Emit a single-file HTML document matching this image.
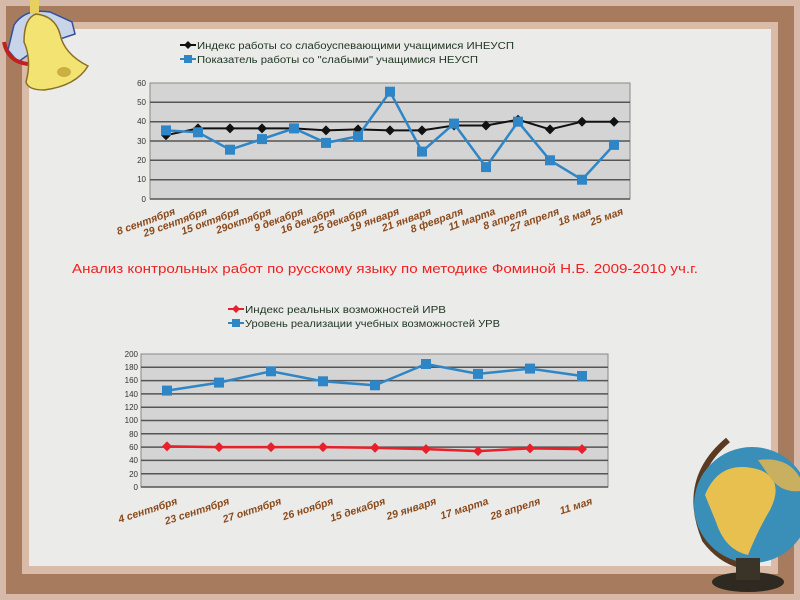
<!DOCTYPE html>
<html><head><meta charset="utf-8"><style>
html,body{margin:0;padding:0;width:800px;height:600px;overflow:hidden;background:#e8e6e2}
svg{display:block}
text{font-family:"Liberation Sans",sans-serif}
</style></head><body>
<svg width="800" height="600" xmlns="http://www.w3.org/2000/svg">
<!-- frame -->
<rect x="0" y="0" width="800" height="600" fill="#d6b9a8"/>
<rect x="6" y="6" width="788" height="588" fill="#a67b5e"/>
<rect x="22" y="22" width="756" height="552" fill="#d9bba8"/>
<rect x="29" y="29" width="742" height="537" fill="#ebebea"/>
<!-- top chart -->
<rect x="150" y="83" width="480" height="116" fill="#d4d4d4" stroke="#888" stroke-width="1"/>
<g stroke="#555" stroke-width="1.5">
<line x1="150" y1="102.3" x2="630" y2="102.3"/><line x1="150" y1="121.7" x2="630" y2="121.7"/>
<line x1="150" y1="141" x2="630" y2="141"/><line x1="150" y1="160.3" x2="630" y2="160.3"/>
<line x1="150" y1="179.7" x2="630" y2="179.7"/><line x1="150" y1="199" x2="630" y2="199"/>
</g>
<g font-size="8" fill="#333" text-anchor="end">
<text x="146" y="86">60</text><text x="146" y="105">50</text><text x="146" y="124">40</text><text x="146" y="144">30</text><text x="146" y="163">20</text><text x="146" y="182">10</text><text x="146" y="202">0</text>
</g>
<polyline fill="none" stroke="#111" stroke-width="2" points="166,135.2 198,128.4 230,128.4 262,128.4 294,128.4 326,130.4 358,129.4 390,130.4 422,130.4 454,125.5 486,125.5 518,119.7 550,129.4 582,121.7 614,121.7"/>
<g fill="#111">
<path d="M166 130.2l5 5-5 5-5-5z"/><path d="M198 123.4l5 5-5 5-5-5z"/><path d="M230 123.4l5 5-5 5-5-5z"/><path d="M262 123.4l5 5-5 5-5-5z"/><path d="M294 123.4l5 5-5 5-5-5z"/><path d="M326 125.4l5 5-5 5-5-5z"/><path d="M358 124.4l5 5-5 5-5-5z"/><path d="M390 125.4l5 5-5 5-5-5z"/><path d="M422 125.4l5 5-5 5-5-5z"/><path d="M454 120.5l5 5-5 5-5-5z"/><path d="M486 120.5l5 5-5 5-5-5z"/><path d="M518 114.7l5 5-5 5-5-5z"/><path d="M550 124.4l5 5-5 5-5-5z"/><path d="M582 116.7l5 5-5 5-5-5z"/><path d="M614 116.7l5 5-5 5-5-5z"/>
</g>
<polyline fill="none" stroke="#2f86c6" stroke-width="2.5" points="166,130.4 198,132.3 230,149.7 262,139.1 294,128.4 326,142.9 358,136.2 390,91.7 422,151.6 454,123.6 486,167.1 518,121.7 550,160.3 582,179.7 614,144.9"/>
<g fill="#2f86c6">
<rect x="161" y="125.4" width="10" height="10"/><rect x="193" y="127.3" width="10" height="10"/><rect x="225" y="144.7" width="10" height="10"/><rect x="257" y="134.1" width="10" height="10"/><rect x="289" y="123.4" width="10" height="10"/><rect x="321" y="137.9" width="10" height="10"/><rect x="353" y="131.2" width="10" height="10"/><rect x="385" y="86.7" width="10" height="10"/><rect x="417" y="146.6" width="10" height="10"/><rect x="449" y="118.6" width="10" height="10"/><rect x="481" y="162.1" width="10" height="10"/><rect x="513" y="116.7" width="10" height="10"/><rect x="545" y="155.3" width="10" height="10"/><rect x="577" y="174.7" width="10" height="10"/><rect x="609" y="139.9" width="10" height="10"/>
</g>
<g font-size="10.5" fill="#8a4a1c" font-style="italic" font-weight="bold" text-anchor="end">
<text transform="translate(176,214) rotate(-20)">8 сентября</text>
<text transform="translate(208,214) rotate(-20)">29 сентября</text>
<text transform="translate(240,214) rotate(-20)">15 октября</text>
<text transform="translate(272,214) rotate(-20)">29октября</text>
<text transform="translate(304,214) rotate(-20)">9 декабря</text>
<text transform="translate(336,214) rotate(-20)">16 декабря</text>
<text transform="translate(368,214) rotate(-20)">25 декабря</text>
<text transform="translate(400,214) rotate(-20)">19 января</text>
<text transform="translate(432,214) rotate(-20)">21 января</text>
<text transform="translate(464,214) rotate(-20)">8 февраля</text>
<text transform="translate(496,214) rotate(-20)">11 марта</text>
<text transform="translate(528,214) rotate(-20)">8 апреля</text>
<text transform="translate(560,214) rotate(-20)">27 апреля</text>
<text transform="translate(592,214) rotate(-20)">18 мая</text>
<text transform="translate(624,214) rotate(-20)">25 мая</text>
</g>
<line x1="180" y1="45" x2="196" y2="45" stroke="#111" stroke-width="2"/><path d="M188 41l4 4-4 4-4-4z" fill="#111"/>
<text x="197" y="49" font-size="10" fill="#1e3520" textLength="317" lengthAdjust="spacingAndGlyphs">Индекс работы со слабоуспевающими учащимися ИНЕУСП</text>
<line x1="180" y1="59" x2="196" y2="59" stroke="#2f86c6" stroke-width="2"/><rect x="184" y="55" width="8" height="8" fill="#2f86c6"/>
<text x="197" y="63" font-size="10" fill="#1e3520" textLength="281" lengthAdjust="spacingAndGlyphs">Показатель работы со "слабыми" учащимися НЕУСП</text>
<!-- title -->
<text x="72" y="273" font-size="13" fill="#f02020" textLength="626" lengthAdjust="spacingAndGlyphs">Анализ контрольных работ по русскому языку по методике Фоминой Н.Б.  2009-2010 уч.г.</text>
<!-- bottom chart -->
<rect x="141" y="354" width="467" height="133" fill="#d4d4d4" stroke="#888" stroke-width="1"/>
<g stroke="#555" stroke-width="1.5">
<line x1="141" y1="367.3" x2="608" y2="367.3"/><line x1="141" y1="380.6" x2="608" y2="380.6"/><line x1="141" y1="393.9" x2="608" y2="393.9"/><line x1="141" y1="407.2" x2="608" y2="407.2"/><line x1="141" y1="420.5" x2="608" y2="420.5"/><line x1="141" y1="433.8" x2="608" y2="433.8"/><line x1="141" y1="447.1" x2="608" y2="447.1"/><line x1="141" y1="460.4" x2="608" y2="460.4"/><line x1="141" y1="473.7" x2="608" y2="473.7"/><line x1="141" y1="487" x2="608" y2="487"/>
</g>
<g font-size="8" fill="#333" text-anchor="end">
<text x="138" y="357">200</text><text x="138" y="370">180</text><text x="138" y="383">160</text><text x="138" y="397">140</text><text x="138" y="410">120</text><text x="138" y="423">100</text><text x="138" y="437">80</text><text x="138" y="450">60</text><text x="138" y="463">40</text><text x="138" y="477">20</text><text x="138" y="490">0</text>
</g>
<polyline fill="none" stroke="#e8202a" stroke-width="2.5" points="167,446.4 219,447.1 271,447.1 323,447.1 375,447.8 426,449.1 478,451.1 530,448.4 582,449.1"/>
<g fill="#e8202a">
<path d="M167 441.4l5 5-5 5-5-5z"/><path d="M219 442.1l5 5-5 5-5-5z"/><path d="M271 442.1l5 5-5 5-5-5z"/><path d="M323 442.1l5 5-5 5-5-5z"/><path d="M375 442.8l5 5-5 5-5-5z"/><path d="M426 444.1l5 5-5 5-5-5z"/><path d="M478 446.1l5 5-5 5-5-5z"/><path d="M530 443.4l5 5-5 5-5-5z"/><path d="M582 444.1l5 5-5 5-5-5z"/>
</g>
<polyline fill="none" stroke="#2f86c6" stroke-width="2.5" points="167,390.6 219,382.6 271,371.3 323,381.3 375,385.3 426,364 478,373.9 530,368.6 582,376"/>
<g fill="#2f86c6">
<rect x="162" y="385.6" width="10" height="10"/><rect x="214" y="377.6" width="10" height="10"/><rect x="266" y="366.3" width="10" height="10"/><rect x="318" y="376.3" width="10" height="10"/><rect x="370" y="380.3" width="10" height="10"/><rect x="421" y="359" width="10" height="10"/><rect x="473" y="368.9" width="10" height="10"/><rect x="525" y="363.6" width="10" height="10"/><rect x="577" y="371" width="10" height="10"/>
</g>
<g font-size="10.5" fill="#8a4a1c" font-style="italic" font-weight="bold" text-anchor="end">
<text transform="translate(178,504) rotate(-18)">4 сентября</text>
<text transform="translate(230,504) rotate(-18)">23 сентября</text>
<text transform="translate(282,504) rotate(-18)">27 октября</text>
<text transform="translate(334,504) rotate(-18)">26 ноября</text>
<text transform="translate(386,504) rotate(-18)">15 декабря</text>
<text transform="translate(437,504) rotate(-18)">29 января</text>
<text transform="translate(489,504) rotate(-18)">17 марта</text>
<text transform="translate(541,504) rotate(-18)">28 апреля</text>
<text transform="translate(593,504) rotate(-18)">11 мая</text>
</g>
<line x1="228" y1="309" x2="244" y2="309" stroke="#e8202a" stroke-width="2"/><path d="M236 305l4 4-4 4-4-4z" fill="#e8202a"/>
<text x="245" y="313" font-size="10" fill="#1e3520" textLength="201" lengthAdjust="spacingAndGlyphs">Индекс реальных возможностей ИРВ</text>
<line x1="228" y1="323" x2="244" y2="323" stroke="#2f86c6" stroke-width="2"/><rect x="232" y="319" width="8" height="8" fill="#2f86c6"/>
<text x="245" y="327" font-size="10" fill="#1e3520" textLength="255" lengthAdjust="spacingAndGlyphs">Уровень реализации учебных возможностей УРВ</text>
<!-- bell -->
<path d="M14 25 Q25 8 50 12 L72 22 L75 34 L42 45 L18 62 L8 50z" fill="#c8d4ea" stroke="#3050a0" stroke-width="1.5"/>
<path d="M4 42 Q8 62 28 64" fill="none" stroke="#c02020" stroke-width="4"/>
<rect x="30" y="0" width="9" height="14" fill="#e8d060"/>
<path d="M36 14 Q55 16 60 34 Q64 54 88 66 Q76 86 44 90 Q28 90 26 82 Q32 60 24 42 Q24 18 36 14z" fill="#f3e373" stroke="#8a7020" stroke-width="1.5"/>
<ellipse cx="64" cy="72" rx="7" ry="5" fill="#c9b040"/>
<!-- globe -->
<path d="M728 440 Q680 480 705 540 Q720 560 740 565" fill="none" stroke="#5a3a20" stroke-width="6"/>
<circle cx="752" cy="505" r="58" fill="#3a8fb8"/>
<path d="M705 495 Q720 458 760 470 Q785 480 770 510 Q758 530 748 555 Q725 550 716 522z" fill="#e8c050"/>
<path d="M758 460 Q795 455 805 490 Q785 495 772 480z" fill="#c8b060"/>
<ellipse cx="748" cy="582" rx="36" ry="10" fill="#2e2a22"/>
<rect x="736" y="558" width="24" height="22" fill="#3a3428"/>
</svg>
</body></html>
